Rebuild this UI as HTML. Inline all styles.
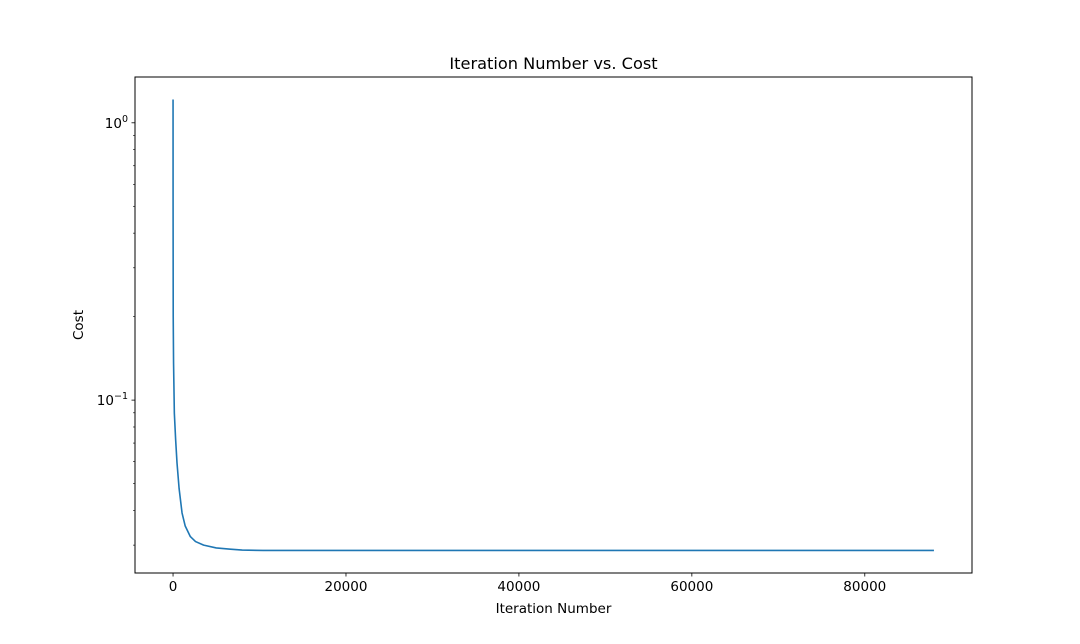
<!DOCTYPE html>
<html><head><meta charset="utf-8">
<style>
html,body{margin:0;padding:0;background:#fff;}
svg{display:block;font-family:"DejaVu Sans","Liberation Sans",sans-serif;}
</style></head>
<body>
<svg id="chart" width="1080" height="644" viewBox="0 0 1080 644" xmlns="http://www.w3.org/2000/svg">
<rect width="1080" height="644" fill="#fff"/>
<text x="553.5" y="69" text-anchor="middle" font-size="16.2">Iteration Number vs. Cost</text>
<text x="553.5" y="613" text-anchor="middle" font-size="13.5">Iteration Number</text>
<text transform="translate(83,325) rotate(-90)" text-anchor="middle" font-size="13.5">Cost</text>
<g id="plot"></g>
<rect x="135" y="77" width="837" height="496" fill="none" stroke="#000" stroke-width="1"/>
</svg>
<script>
const iterations = [0, 5, 20, 60, 150, 300, 460, 700, 1040, 1400, 2000, 2600, 3540, 5000, 6630, 8000, 10400, 20000, 40000, 60000, 88000];
const costs = [1.213, 0.5, 0.2, 0.136, 0.0898, 0.072, 0.0593, 0.048, 0.0392, 0.0352, 0.0322, 0.0309, 0.0300, 0.0293, 0.0290, 0.0288, 0.0287, 0.0287, 0.0287, 0.0287, 0.0287];
const xTicks = [0, 20000, 40000, 60000, 80000];
const xTickLabels = ["0", "20000", "40000", "60000", "80000"];
const yMajorTicks = [1, 0.1];
const yMajorExp = ["0", "\u22121"];
const yMinorTicks = [0.03,0.04,0.05,0.06,0.07,0.08,0.09,0.2,0.3,0.4,0.5,0.6,0.7,0.8,0.9];

const L=135,R=972,T=77,B=573;
const xmin=Math.min(...iterations), xmax=Math.max(...iterations), xm=(xmax-xmin)*0.05;
const x0=xmin-xm, x1=xmax+xm;
const lmin=Math.log10(Math.min(...costs)), lmax=Math.log10(Math.max(...costs)), lm=(lmax-lmin)*0.05;
const y0=lmin-lm, y1=lmax+lm;
const sx=v=>L+(v-x0)/(x1-x0)*(R-L);
const sy=v=>B-(Math.log10(v)-y0)/(y1-y0)*(B-T);
const NS="http://www.w3.org/2000/svg";
const g=document.getElementById('plot');
function mk(tag,attrs){const e=document.createElementNS(NS,tag);for(const k in attrs)e.setAttribute(k,attrs[k]);g.appendChild(e);return e;}

xTicks.forEach((t,i)=>{
  const x=sx(t);
  const tk=mk('line',{x1:x,x2:x,y1:B,y2:B+3.5,stroke:'#000','stroke-width':0.8});
  
  
  const lb=mk('text',{x:x,y:B+18,'text-anchor':'middle','font-size':13.5});
  lb.textContent=xTickLabels[i];
  
  
});
yMajorTicks.forEach((t,i)=>{
  const y=sy(t);
  const tk=mk('line',{x1:L-3.5,x2:L,y1:y,y2:y,stroke:'#000','stroke-width':0.8});
  
  
  const lb=mk('text',{x:L-7,y:y+5,'text-anchor':'end','font-size':13.5});
  
  
  const a=document.createElementNS(NS,'tspan');a.textContent='10';lb.appendChild(a);
  const b=document.createElementNS(NS,'tspan');b.setAttribute('dy','-6');b.setAttribute('font-size','9.5');b.textContent=yMajorExp[i];lb.appendChild(b);
});
yMinorTicks.forEach(t=>{
  const y=sy(t);
  const tk=mk('line',{x1:L-2,x2:L,y1:y,y2:y,stroke:'#000','stroke-width':0.6});
  
  
});
const d=iterations.map((v,i)=>(i?'L':'M')+sx(v).toFixed(2)+','+sy(costs[i]).toFixed(2)).join(' ');
const line=mk('path',{d:d,fill:'none',stroke:'#1f77b4','stroke-width':1.6,'stroke-linejoin':'round'});


</script>
</body></html>
